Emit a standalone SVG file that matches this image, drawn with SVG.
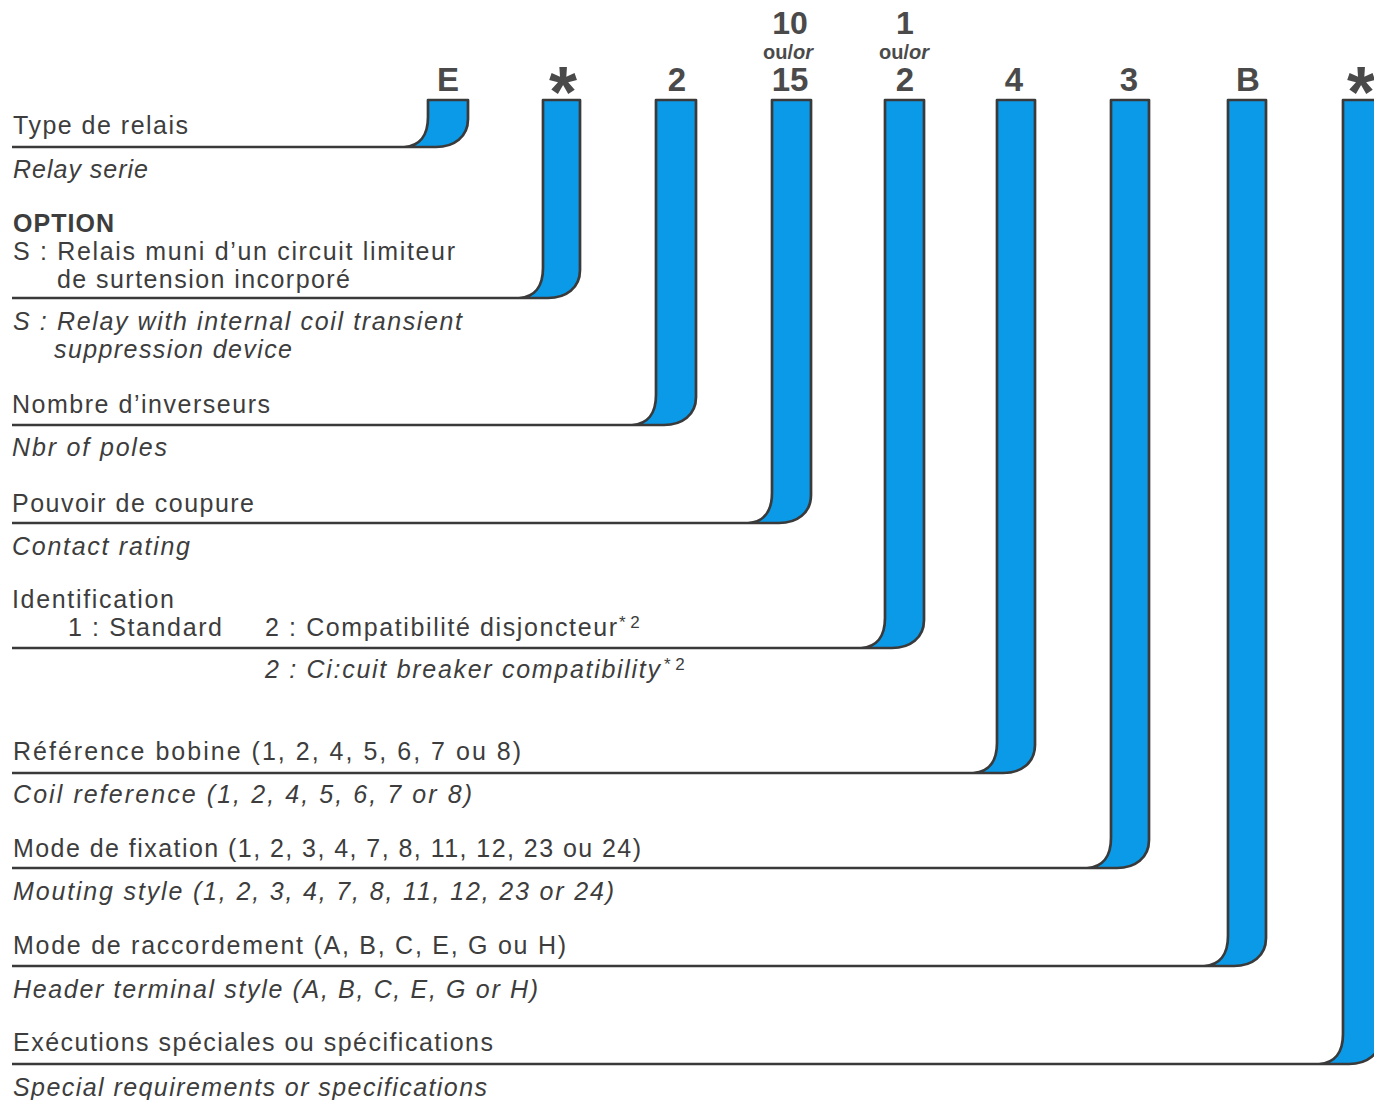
<svg xmlns="http://www.w3.org/2000/svg" width="1374" height="1100" viewBox="0 0 1374 1100">
<style>
.bg{fill:#ffffff}
.fill{fill:#0b9ae8;stroke:none}
.out{fill:none;stroke:#3a3a3a;stroke-width:2.7;stroke-linejoin:round}
.hd{font-family:"Liberation Sans",Arial,sans-serif;font-weight:bold;font-size:33px;fill:#4a4a4a;text-anchor:middle}
.hs{font-family:"Liberation Sans",Arial,sans-serif;font-weight:bold;font-size:32px;fill:#4a4a4a;text-anchor:middle}
.ou{font-family:"Liberation Sans",Arial,sans-serif;font-weight:bold;font-size:20px;fill:#4a4a4a;text-anchor:middle}
.ast{font-family:"Liberation Sans",Arial,sans-serif;font-weight:bold;font-size:72px;fill:#4a4a4a;text-anchor:middle}
.t{font-family:"Liberation Sans",Arial,sans-serif;font-size:25px;fill:#3d3d3d}
.i{font-family:"Liberation Sans",Arial,sans-serif;font-size:25px;font-style:italic;fill:#3d3d3d}
.b{font-family:"Liberation Sans",Arial,sans-serif;font-size:25px;font-weight:bold;fill:#3d3d3d}
.sup{font-family:"Liberation Sans",Arial,sans-serif;font-size:17px;fill:#3d3d3d}
</style>
<rect class="bg" x="0" y="0" width="1374" height="1100"/>

<g id="connectors">
  <g id="bar-E">
    <path class="fill" d="M428,100 H468 V119 C468,137 454,147 436,147 H404 C420,146 428,135 428,117 Z"/>
    <path class="out" d="M12,147 H436 C454,147 468,137 468,119 V100 H428 V117 C428,135 420,146 404,147"/>
  </g>
  <g id="bar-opt">
    <path class="fill" d="M543,100 H580 V270 C580,288 566,298 548,298 H519 C535,297 543,286 543,268 Z"/>
    <path class="out" d="M12,298 H548 C566,298 580,288 580,270 V100 H543 V268 C543,286 535,297 519,298"/>
  </g>
  <g id="bar-poles">
    <path class="fill" d="M656,100 H696 V397 C696,415 682,425 664,425 H632 C648,424 656,413 656,395 Z"/>
    <path class="out" d="M12,425 H664 C682,425 696,415 696,397 V100 H656 V395 C656,413 648,424 632,425"/>
  </g>
  <g id="bar-rating">
    <path class="fill" d="M772,100 H811 V495 C811,513 797,523 779,523 H748 C764,522 772,511 772,493 Z"/>
    <path class="out" d="M12,523 H779 C797,523 811,513 811,495 V100 H772 V493 C772,511 764,522 748,523"/>
  </g>
  <g id="bar-ident">
    <path class="fill" d="M885,100 H924 V620 C924,638 910,648 892,648 H861 C877,647 885,636 885,618 Z"/>
    <path class="out" d="M12,648 H892 C910,648 924,638 924,620 V100 H885 V618 C885,636 877,647 861,648"/>
  </g>
  <g id="bar-coil">
    <path class="fill" d="M997,100 H1035 V745 C1035,763 1021,773 1003,773 H973 C989,772 997,761 997,743 Z"/>
    <path class="out" d="M12,773 H1003 C1021,773 1035,763 1035,745 V100 H997 V743 C997,761 989,772 973,773"/>
  </g>
  <g id="bar-mount">
    <path class="fill" d="M1111,100 H1149 V840 C1149,858 1135,868 1117,868 H1087 C1103,867 1111,856 1111,838 Z"/>
    <path class="out" d="M12,868 H1117 C1135,868 1149,858 1149,840 V100 H1111 V838 C1111,856 1103,867 1087,868"/>
  </g>
  <g id="bar-header">
    <path class="fill" d="M1228,100 H1266 V938 C1266,956 1252,966 1234,966 H1204 C1220,965 1228,954 1228,936 Z"/>
    <path class="out" d="M12,966 H1234 C1252,966 1266,956 1266,938 V100 H1228 V936 C1228,954 1220,965 1204,966"/>
  </g>
  <g id="bar-special">
    <path class="fill" d="M1343,100 H1381 V1036 C1381,1054 1367,1064 1349,1064 H1319 C1335,1063 1343,1052 1343,1034 Z"/>
    <path class="out" d="M12,1064 H1349 C1367,1064 1381,1054 1381,1036 V100 H1343 V1034 C1343,1052 1335,1063 1319,1064"/>
  </g>
</g>

<g id="code">
  <text class="hd" x="448" y="91">E</text>
  <text class="ast" x="563" y="117">*</text>
  <text class="hd" x="677" y="91">2</text>
  <text class="hs" x="790" y="34">10</text>
  <text class="ou" x="788" y="59">ou/<tspan font-style="italic">or</tspan></text>
  <text class="hd" x="790" y="91">15</text>
  <text class="hs" x="905" y="34">1</text>
  <text class="ou" x="904" y="59">ou/<tspan font-style="italic">or</tspan></text>
  <text class="hd" x="905" y="91">2</text>
  <text class="hd" x="1014" y="91">4</text>
  <text class="hd" x="1129" y="91">3</text>
  <text class="hd" x="1248" y="91">B</text>
  <text class="ast" x="1361" y="117">*</text>
</g>

<g id="node-type">
  <text class="t" x="13" y="134" textLength="175" lengthAdjust="spacing">Type de relais</text>
  <text class="i" x="13" y="178" textLength="135" lengthAdjust="spacing">Relay serie</text>
</g>
<g id="node-option">
  <text class="b" x="13" y="232" textLength="101" lengthAdjust="spacing">OPTION</text>
  <text class="t" x="13" y="260" textLength="442" lengthAdjust="spacing">S : Relais muni d’un circuit limiteur</text>
  <text class="t" x="57" y="288" textLength="293" lengthAdjust="spacing">de surtension incorporé</text>
  <text class="i" x="13" y="330" textLength="449" lengthAdjust="spacing">S : Relay with internal coil transient</text>
  <text class="i" x="54" y="358" textLength="238" lengthAdjust="spacing">suppression device</text>
</g>
<g id="node-poles">
  <text class="t" x="12" y="413" textLength="258" lengthAdjust="spacing">Nombre d’inverseurs</text>
  <text class="i" x="12" y="456" textLength="155" lengthAdjust="spacing">Nbr of poles</text>
</g>
<g id="node-rating">
  <text class="t" x="12" y="512" textLength="242" lengthAdjust="spacing">Pouvoir de coupure</text>
  <text class="i" x="12" y="555" textLength="178" lengthAdjust="spacing">Contact rating</text>
</g>
<g id="node-ident">
  <text class="t" x="12" y="608" textLength="162" lengthAdjust="spacing">Identification</text>
  <text class="t" x="68" y="636" textLength="154" lengthAdjust="spacing">1 : Standard</text>
  <text class="t" x="265" y="636" textLength="352" lengthAdjust="spacing">2 : Compatibilité disjoncteur</text>
  <text class="sup" x="619" y="628">* 2</text>
  <text class="i" x="265" y="678" textLength="395" lengthAdjust="spacing">2 : Ci:cuit breaker compatibility</text>
  <text class="sup" x="664" y="670">* 2</text>
</g>
<g id="node-coil">
  <text class="t" x="13" y="760" textLength="508" lengthAdjust="spacing">Référence bobine (1, 2, 4, 5, 6, 7 ou 8)</text>
  <text class="i" x="13" y="803" textLength="459" lengthAdjust="spacing">Coil reference (1, 2, 4, 5, 6, 7 or 8)</text>
</g>
<g id="node-mount">
  <text class="t" x="13" y="857" textLength="628" lengthAdjust="spacing">Mode de fixation (1, 2, 3, 4, 7, 8, 11, 12, 23 ou 24)</text>
  <text class="i" x="13" y="900" textLength="601" lengthAdjust="spacing">Mouting style (1, 2, 3, 4, 7, 8, 11, 12, 23 or 24)</text>
</g>
<g id="node-header">
  <text class="t" x="13" y="954" textLength="553" lengthAdjust="spacing">Mode de raccordement (A, B, C, E, G ou H)</text>
  <text class="i" x="13" y="998" textLength="525" lengthAdjust="spacing">Header terminal style (A, B, C, E, G or H)</text>
</g>
<g id="node-special">
  <text class="t" x="13" y="1051" textLength="480" lengthAdjust="spacing">Exécutions spéciales ou spécifications</text>
  <text class="i" x="13" y="1096" textLength="474" lengthAdjust="spacing">Special requirements or specifications</text>
</g>
</svg>
